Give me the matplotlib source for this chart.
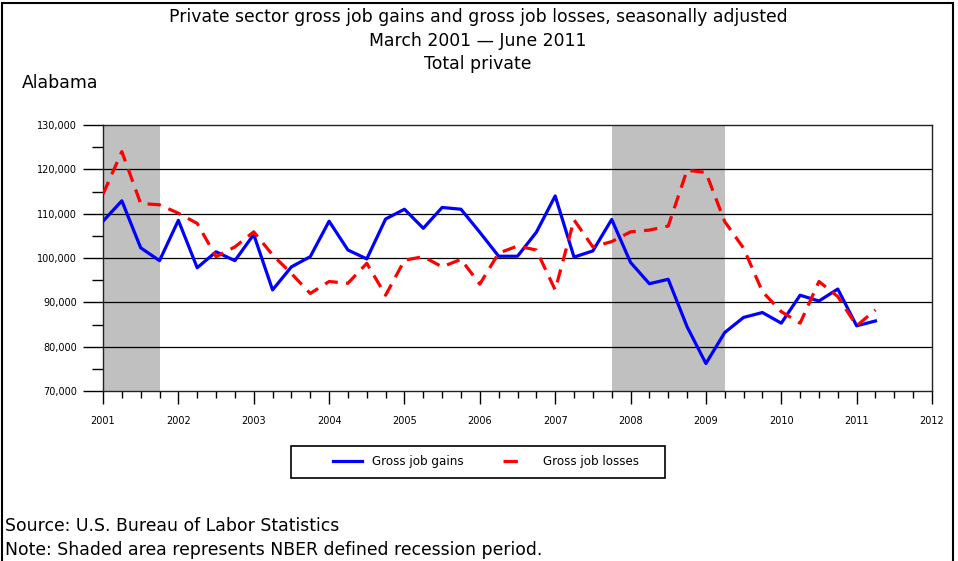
import matplotlib
matplotlib.use("Agg")
import matplotlib.pyplot as plt
from matplotlib.lines import Line2D
from matplotlib.patches import Rectangle

plt.rcParams['font.family'] = ['DejaVu Sans']

# Quarterly dates, March 2001 .. June 2011
start_year = 2001
n_quarters = 42
quarters = [start_year + i * 0.25 for i in range(n_quarters)]

gains = [108300, 112900, 102300, 99400, 108500, 97800, 101400, 99400,
         105300, 92800, 98000, 100300, 108300, 101800, 99800, 108800,
         111000, 106700, 111400, 111000, 105800, 100400, 100400, 105800,
         114000, 100200, 101600, 108700, 99000, 94200, 95200, 84500,
         76200, 83200, 86600, 87700, 85300, 91600, 90300, 93000,
         84700, 85800]

losses = [114400, 124000, 112300, 112000, 110100, 107800, 100300, 102500,
          105900, 100700, 96500, 92000, 94700, 94300, 98800, 91600,
          99500, 100300, 98000, 99700, 94100, 101100, 102700, 101800,
          92800, 108600, 102500, 103700, 105900, 106300, 107200, 119800,
          119300, 108200, 102200, 92400, 87900, 85300, 94700, 91300,
          84700, 88300]

recessions = [(2001.0, 2001.75), (2007.75, 2009.25)]
y_ticks = [70000, 80000, 90000, 100000, 110000, 120000, 130000]
x_years = list(range(2001, 2013))

W, H = 958, 561
PX = 72 / 100  # points per pixel
fig = plt.figure(figsize=(W / 100, H / 100), dpi=100)

# figure border
fig.add_artist(Rectangle((2 / W, -0.01), (953 - 2) / W, (H - 3) / H + 0.01,
                         transform=fig.transFigure, fill=False,
                         edgecolor='black', linewidth=1.5))

ax = fig.add_axes([103 / W, (H - 391) / H, (932 - 103) / W, (391 - 125) / H])

for a, b in recessions:
    ax.axvspan(a, b, color='#c0c0c0', zorder=0, linewidth=0)

for yv in y_ticks[1:-1]:
    ax.axhline(yv, color='black', linewidth=0.9, zorder=1)

LW = 2.3
DASH = (4.2, 2.6)
ax.plot(quarters, gains, color='#0000ff', linewidth=LW, zorder=3)
ax.plot(quarters, losses, color='#ff0000', linewidth=LW, zorder=3, dashes=DASH)

ax.set_xlim(2001, 2012)
ax.set_ylim(70000, 130000)

ax.set_xticks(x_years)
ax.set_xticklabels([str(y) for y in x_years], fontsize=7)
ax.set_xticks([y + q * 0.25 for y in range(2001, 2012) for q in (1, 2, 3)], minor=True)
ax.set_yticks(y_ticks)
ax.set_yticklabels([f"{v:,}" for v in y_ticks], fontsize=7)
ax.set_yticks([v + 5000 for v in y_ticks[:-1]], minor=True)

ax.tick_params(axis='y', which='major', length=20 * PX, width=1, pad=6 * PX)
ax.tick_params(axis='y', which='minor', length=11 * PX, width=1)
ax.tick_params(axis='x', which='major', length=13 * PX, width=1, pad=12 * PX)
ax.tick_params(axis='x', which='minor', length=7 * PX, width=1)

for s in ax.spines.values():
    s.set_linewidth(1.0)
    s.set_color('#222222')

TF = 12.4
fig.text(478 / W, 1 - 17 / H, "Private sector gross job gains and gross job losses, seasonally adjusted",
         ha='center', va='center', fontsize=TF)
fig.text(478 / W, 1 - 41 / H, "March 2001 \u2014 June 2011", ha='center', va='center', fontsize=TF)
fig.text(478 / W, 1 - 64 / H, "Total private", ha='center', va='center', fontsize=TF)
fig.text(22 / W, 1 - 83 / H, "Alabama", ha='left', va='center', fontsize=TF)

# legend frame
fig.add_artist(Rectangle((291 / W, (H - 478) / H), (665 - 291) / W, 32 / H,
                         transform=fig.transFigure, fill=False,
                         edgecolor='black', linewidth=1.2))
handles = [Line2D([], [], color='#0000ff', linewidth=LW),
           Line2D([], [], color='#ff0000', linewidth=LW, dashes=(4.5, 5.5, 1.2, 5.5))]
LF = 8.6
leg = fig.legend(handles, ["Gross job gains", "Gross job losses"], ncol=2,
                 loc='center left', bbox_to_anchor=(333 / W, 1 - 462 / H),
                 fontsize=LF, frameon=False, borderpad=0, borderaxespad=0,
                 handlelength=2.45, handletextpad=0.85, columnspacing=3.3)

fig.text(5 / W, 1 - 526 / H, "Source: U.S. Bureau of Labor Statistics",
         ha='left', va='center', fontsize=TF)
fig.text(5 / W, 1 - 550 / H, "Note: Shaded area represents NBER defined recession period.",
         ha='left', va='center', fontsize=TF)

fig.savefig("out.png", dpi=100)
